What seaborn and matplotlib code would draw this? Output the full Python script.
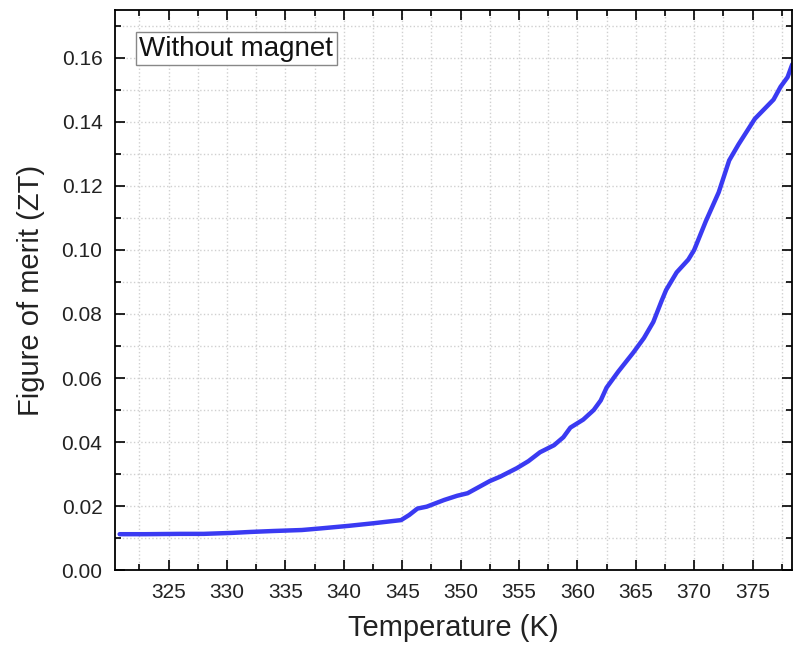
import numpy as np
import pandas as pd
import seaborn as sns
import matplotlib.pyplot as plt
from matplotlib.ticker import MultipleLocator

# data
temperature = [320.8, 323.0, 326.0, 328.0, 330.4, 332.0, 334.0, 336.4, 338.0, 340.4,
               342.5, 344.9, 345.6, 346.3, 347.1, 348.6, 349.7, 350.6, 351.5, 352.5,
               353.4, 354.8, 355.8, 356.8, 358.0, 358.8, 359.4, 360.5, 361.4, 362.0,
               362.5, 363.5, 364.8, 365.7, 366.5, 367.2, 367.6, 368.5, 369.5, 370.0,
               371.0, 372.1, 373.0, 373.8, 374.5, 375.2, 376.0, 376.8, 377.4, 378.0,
               378.4]
zt = [0.0112, 0.0112, 0.0113, 0.0113, 0.0116, 0.0119, 0.0122, 0.0125, 0.0130, 0.0138,
      0.0146, 0.0156, 0.0172, 0.0192, 0.0198, 0.0219, 0.0232, 0.0240, 0.0258, 0.0278,
      0.0292, 0.0318, 0.0340, 0.0368, 0.0390, 0.0415, 0.0445, 0.0470, 0.0500, 0.0530,
      0.0570, 0.0620, 0.0680, 0.0725, 0.0775, 0.0840, 0.0875, 0.0930, 0.0970, 0.1000,
      0.1090, 0.1180, 0.1280, 0.1330, 0.1370, 0.1410, 0.1440, 0.1470, 0.1510, 0.1540,
      0.1580]
label_text = 'Without magnet'

df = pd.DataFrame({'T': temperature, 'ZT': zt})

sns.set_style('ticks')
plt.rcParams['font.family'] = ['Liberation Sans', 'DejaVu Sans']

fig = plt.figure(figsize=(7.94, 6.46), dpi=100)
ax = fig.add_axes([0.1448, 0.1176, 0.853, 0.867])

sns.lineplot(data=df, x='T', y='ZT', color='#3a3af2', linewidth=3.2, ax=ax)

ax.set_xlim(320.4, 378.4)
ax.set_ylim(0, 0.175)
ax.xaxis.set_major_locator(MultipleLocator(5))
ax.xaxis.set_minor_locator(MultipleLocator(2.5))
ax.yaxis.set_major_locator(MultipleLocator(0.02))
ax.yaxis.set_minor_locator(MultipleLocator(0.01))
ax.yaxis.set_major_formatter(plt.FormatStrFormatter('%.2f'))

ax.grid(True, which='both', linestyle=':', color='#d0d0d0', linewidth=1)
ax.set_axisbelow(True)
ax.tick_params(which='both', direction='in', top=True, right=True, width=1.2,
               labelsize=15, colors='black', labelcolor='#222222')
ax.tick_params(which='major', length=7, pad=9)
ax.tick_params(which='minor', length=4)
for s in ax.spines.values():
    s.set_linewidth(1.3)
    s.set_color('black')

ax.set_xlabel('Temperature (K)', fontsize=21, labelpad=9, color='#222222')
ax.set_ylabel('Figure of merit (ZT)', fontsize=21, labelpad=12, color='#222222')

ax.text(0.036, 0.931, label_text, transform=ax.transAxes, fontsize=20,
        va='center', ha='left', color='#111111',
        bbox=dict(boxstyle='square,pad=0.12', facecolor='white', edgecolor='#888888', linewidth=1))

fig.savefig('out.png', dpi=100)
